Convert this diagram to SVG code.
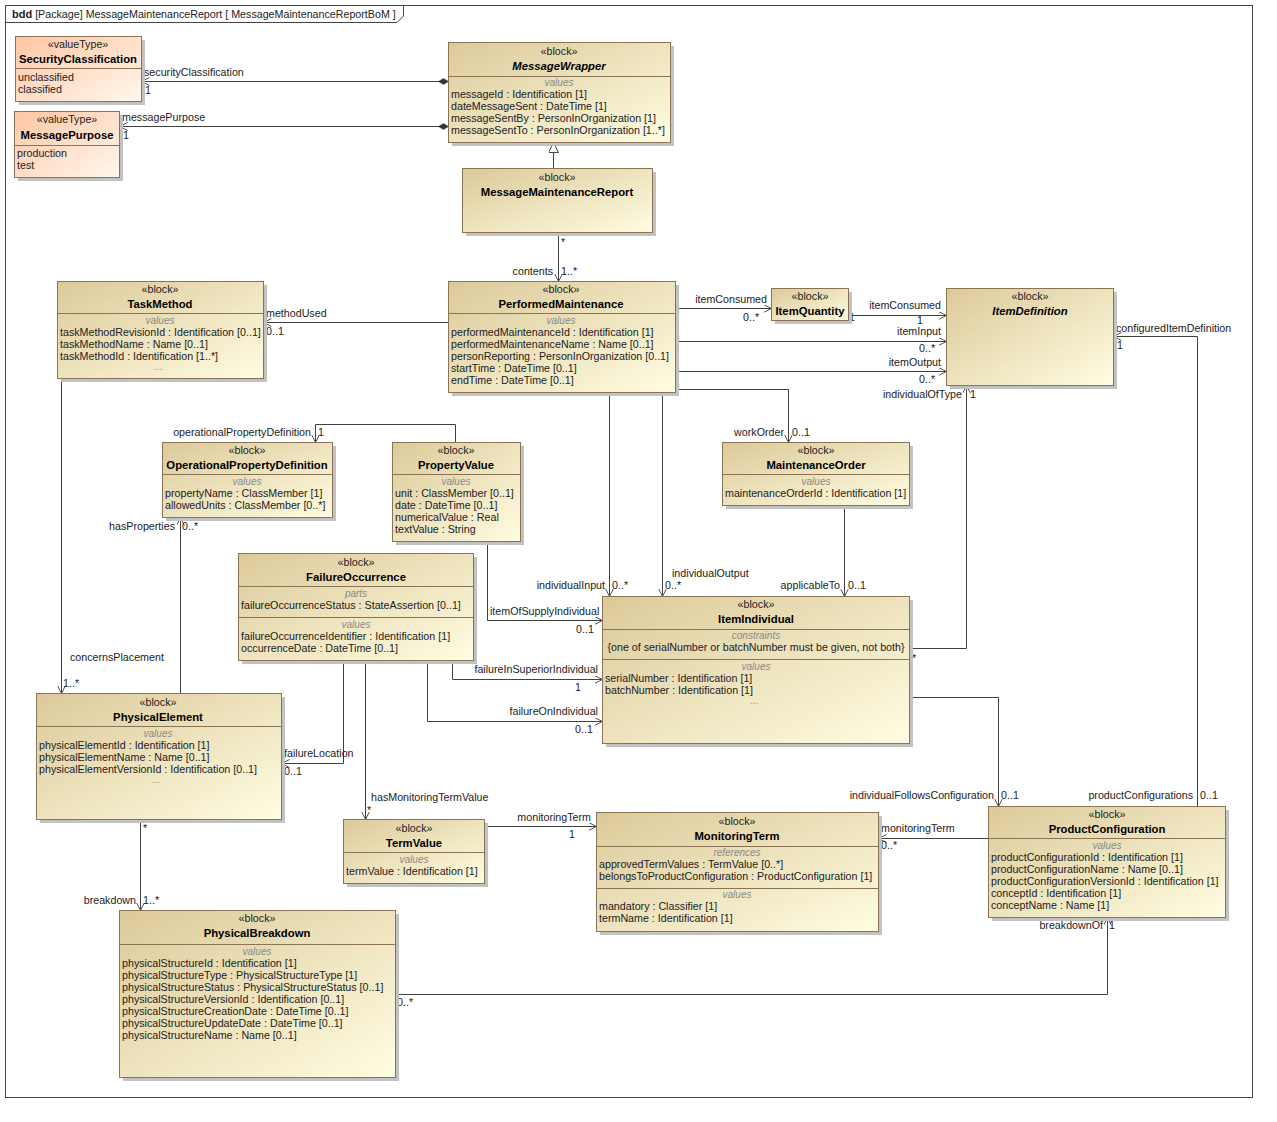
<svg xmlns="http://www.w3.org/2000/svg" width="1277" height="1122" viewBox="0 0 1277 1122">
<defs>
<linearGradient id="gb" x1="0" y1="0" x2="1" y2="1"><stop offset="0" stop-color="#dcc999"/><stop offset="1" stop-color="#fffde2"/></linearGradient>
<linearGradient id="gv" x1="0" y1="0" x2="1" y2="1"><stop offset="0" stop-color="#ffc6a3"/><stop offset="1" stop-color="#fff8ee"/></linearGradient>
<marker id="ar" markerWidth="10" markerHeight="10" refX="8" refY="4" orient="auto" markerUnits="userSpaceOnUse"><path d="M0,0 L8,4 L0,8" fill="none" stroke="#555" stroke-width="1"/></marker>
<marker id="dm" markerWidth="12" markerHeight="8" refX="0" refY="3" orient="auto" markerUnits="userSpaceOnUse"><path d="M0,3 L5,0 L10,3 L5,6 Z" fill="#333" stroke="#333" stroke-width="0.5"/></marker>
<marker id="tri" markerWidth="12" markerHeight="12" refX="10" refY="5" orient="auto" markerUnits="userSpaceOnUse"><path d="M0,0 L10,5 L0,10 Z" fill="#fff" stroke="#444" stroke-width="1"/></marker>
</defs>
<style>
text{font-family:"Liberation Sans",Arial,sans-serif;font-size:10.7px;fill:#222}
.c{text-anchor:middle}
.r{text-anchor:end}
.b{font-weight:bold;fill:#000;font-size:11.3px}
.i{font-style:italic}
.h{font-size:10px;fill:#8a8a8a;font-style:italic;text-anchor:middle}
.d{fill:#999;text-anchor:middle;font-size:10px}
.box{fill:url(#gb);stroke:#8b7355;stroke-width:1}
.vt{fill:url(#gv);stroke:#8b7355;stroke-width:1}
.sh{fill:#c2c2c2}
.sep{stroke:#8b7355;stroke-width:1}
.ln{fill:none;stroke:#404040;stroke-width:1}
.fr{fill:none;stroke:#444;stroke-width:1}
</style>
<rect x="0" y="0" width="1277" height="1122" fill="#fff"/>
<g id="frame">
<rect class="fr" x="5.5" y="5.5" width="1247" height="1092"/>
<path class="fr" d="M5.5,22.5 H397 L403.5,16 V5.5"/>
<text x="12" y="18"><tspan style="font-weight:bold;font-size:11px">bdd</tspan> [Package] MessageMaintenanceReport [ MessageMaintenanceReportBoM ]</text>
</g>

<g id="connectors">
<g transform="translate(0.5,0.5)">
<path class="ln" d="M448,81 H141" marker-start="url(#dm)" marker-end="url(#ar)"/>
<path class="ln" d="M448,126 H119" marker-start="url(#dm)" marker-end="url(#ar)"/>
<path class="ln" d="M553,168 V142" marker-end="url(#tri)"/>
<path class="ln" d="M558,232 V281" marker-end="url(#ar)"/>
<path class="ln" d="M448,322 H263" marker-end="url(#ar)"/>
<path class="ln" d="M675,308 H771" marker-end="url(#ar)"/>
<path class="ln" d="M848,315 H946" marker-end="url(#ar)"/>
<path class="ln" d="M675,341 H946" marker-end="url(#ar)"/>
<path class="ln" d="M675,371 H946" marker-end="url(#ar)"/>
<path class="ln" d="M675,389 H788 V442" marker-end="url(#ar)"/>
<path class="ln" d="M609,392 V596" marker-end="url(#ar)"/>
<path class="ln" d="M662,392 V596" marker-end="url(#ar)"/>
<path class="ln" d="M844,505 V596" marker-end="url(#ar)"/>
<path class="ln" d="M909,648 H966 V385" marker-end="url(#ar)"/>
<path class="ln" d="M1197,806 V336 H1113" marker-end="url(#ar)"/>
<path class="ln" d="M909,697 H998 V806" marker-end="url(#ar)"/>
<path class="ln" d="M455,442 V424 H315 V442" marker-end="url(#ar)"/>
<path class="ln" d="M487,541 V620 H602" marker-end="url(#ar)"/>
<path class="ln" d="M180,693 V517" marker-end="url(#ar)"/>
<path class="ln" d="M61,378 V693" marker-end="url(#ar)"/>
<path class="ln" d="M343,660 V763 H281" marker-end="url(#ar)"/>
<path class="ln" d="M365,660 V819" marker-end="url(#ar)"/>
<path class="ln" d="M452,660 V679 H602" marker-end="url(#ar)"/>
<path class="ln" d="M427,660 V721 H602" marker-end="url(#ar)"/>
<path class="ln" d="M484,826 H596" marker-end="url(#ar)"/>
<path class="ln" d="M988,838 H878" marker-end="url(#ar)"/>
<path class="ln" d="M140,819 V910" marker-end="url(#ar)"/>
<path class="ln" d="M395,994 H1107 V917" marker-end="url(#ar)"/>
</g>
<text x="144" y="76">securityClassification</text>
<text x="145" y="94">1</text>
<text x="122" y="121">messagePurpose</text>
<text x="123" y="139">1</text>
<text x="561" y="246">*</text>
<text class="r" x="553" y="275">contents</text>
<text x="561" y="275">1..*</text>
<text x="266" y="317">methodUsed</text>
<text x="266" y="335">0..1</text>
<text class="r" x="767" y="303">itemConsumed</text>
<text x="743" y="321">0..*</text>
<text class="r" x="941" y="309">itemConsumed</text>
<text x="849" y="321" fill="#602060">1</text>
<text x="917" y="324">1</text>
<text class="r" x="941" y="335">itemInput</text>
<text x="919" y="352">0..*</text>
<text class="r" x="941" y="366">itemOutput</text>
<text x="919" y="383">0..*</text>
<text class="r" x="962" y="398">individualOfType</text>
<text x="970" y="398">1</text>
<text x="1116" y="332">configuredItemDefinition</text>
<text x="1117" y="349">1</text>
<text class="r" x="784" y="436">workOrder</text>
<text x="792" y="436">0..1</text>
<text class="r" x="311" y="436">operationalPropertyDefinition</text>
<text x="318" y="436">1</text>
<text class="r" x="175" y="530">hasProperties</text>
<text x="182" y="530">0..*</text>
<text x="70" y="661">concernsPlacement</text>
<text x="63" y="687">1..*</text>
<text class="r" x="605" y="589">individualInput</text>
<text x="612" y="589">0..*</text>
<text x="490" y="615">itemOfSupplyIndividual</text>
<text x="576" y="633">0..1</text>
<text x="672" y="577">individualOutput</text>
<text x="665" y="589">0..*</text>
<text class="r" x="840" y="589">applicableTo</text>
<text x="848" y="589">0..1</text>
<text x="912" y="662">*</text>
<text class="r" x="994" y="799">individualFollowsConfiguration</text>
<text x="1001" y="799">0..1</text>
<text class="r" x="1193" y="799">productConfigurations</text>
<text x="1200" y="799">0..1</text>
<text x="881" y="832">monitoringTerm</text>
<text x="881" y="849">0..*</text>
<text class="r" x="1103" y="929">breakdownOf</text>
<text x="1109" y="929">1</text>
<text x="284" y="757">failureLocation</text>
<text x="284" y="775">0..1</text>
<text x="371" y="801">hasMonitoringTermValue</text>
<text x="367" y="814">*</text>
<text class="r" x="598" y="673">failureInSuperiorIndividual</text>
<text x="575" y="691">1</text>
<text class="r" x="598" y="715">failureOnIndividual</text>
<text x="575" y="733">0..1</text>
<text class="r" x="591" y="821">monitoringTerm</text>
<text x="569" y="838">1</text>
<text x="143" y="832">*</text>
<text class="r" x="136" y="904">breakdown</text>
<text x="143" y="904">1..*</text>
<text x="397" y="1006">0..*</text>
</g>

<g id="SecurityClassification">
<rect class="sh" x="19" y="40" width="126" height="65"/>
<rect class="vt" x="15.5" y="36.5" width="126" height="65"/>
<line class="sep" x1="15.5" y1="68.5" x2="141.5" y2="68.5"/>
<text class="c" x="78" y="48">«valueType»</text>
<text class="c b" x="78" y="63">SecurityClassification</text>
<text x="18" y="81">unclassified</text>
<text x="18" y="93">classified</text>
</g>

<g id="MessagePurpose">
<rect class="sh" x="18" y="115" width="105" height="66"/>
<rect class="vt" x="14.5" y="111.5" width="105" height="66"/>
<line class="sep" x1="14.5" y1="145.5" x2="119.5" y2="145.5"/>
<text class="c" x="67" y="123">«valueType»</text>
<text class="c b" x="67" y="139">MessagePurpose</text>
<text x="17" y="157">production</text>
<text x="17" y="169">test</text>
</g>

<g id="MessageWrapper">
<rect class="sh" x="452" y="46" width="222" height="100"/>
<rect class="box" x="448.5" y="42.5" width="222" height="100"/>
<line class="sep" x1="448.5" y1="76.5" x2="670.5" y2="76.5"/>
<text class="c" x="559" y="55">«block»</text>
<text class="c b i" x="559" y="70">MessageWrapper</text>
<text class="h" x="559" y="86">values</text>
<text x="451" y="98">messageId : Identification [1]</text>
<text x="451" y="110">dateMessageSent : DateTime [1]</text>
<text x="451" y="122">messageSentBy : PersonInOrganization [1]</text>
<text x="451" y="134">messageSentTo : PersonInOrganization [1..*]</text>
</g>

<g id="MessageMaintenanceReport">
<rect class="sh" x="466" y="172" width="190" height="64"/>
<rect class="box" x="462.5" y="168.5" width="190" height="64"/>
<text class="c" x="557" y="181">«block»</text>
<text class="c b" x="557" y="196">MessageMaintenanceReport</text>
</g>

<g id="TaskMethod">
<rect class="sh" x="61" y="285" width="206" height="97"/>
<rect class="box" x="57.5" y="281.5" width="206" height="97"/>
<line class="sep" x1="57.5" y1="313.5" x2="263.5" y2="313.5"/>
<text class="c" x="160" y="293">«block»</text>
<text class="c b" x="160" y="308">TaskMethod</text>
<text class="h" x="160" y="324">values</text>
<text x="60" y="336">taskMethodRevisionId : Identification [0..1]</text>
<text x="60" y="348">taskMethodName : Name [0..1]</text>
<text x="60" y="360">taskMethodId : Identification [1..*]</text>
<text class="d" x="158" y="370">...</text>
</g>

<g id="PerformedMaintenance">
<rect class="sh" x="452" y="285" width="227" height="111"/>
<rect class="box" x="448.5" y="281.5" width="227" height="111"/>
<line class="sep" x1="448.5" y1="313.5" x2="675.5" y2="313.5"/>
<text class="c" x="561" y="293">«block»</text>
<text class="c b" x="561" y="308">PerformedMaintenance</text>
<text class="h" x="561" y="324">values</text>
<text x="451" y="336">performedMaintenanceId : Identification [1]</text>
<text x="451" y="348">performedMaintenanceName : Name [0..1]</text>
<text x="451" y="360">personReporting : PersonInOrganization [0..1]</text>
<text x="451" y="372">startTime : DateTime [0..1]</text>
<text x="451" y="384">endTime : DateTime [0..1]</text>
</g>

<g id="ItemQuantity">
<rect class="sh" x="775" y="292" width="77" height="32"/>
<rect class="box" x="771.5" y="288.5" width="77" height="32"/>
<text class="c" x="810" y="300">«block»</text>
<text class="c b" x="810" y="315">ItemQuantity</text>
</g>

<g id="ItemDefinition">
<rect class="sh" x="950" y="292" width="167" height="97"/>
<rect class="box" x="946.5" y="288.5" width="167" height="97"/>
<text class="c" x="1030" y="300">«block»</text>
<text class="c b i" x="1030" y="315">ItemDefinition</text>
</g>

<g id="MaintenanceOrder">
<rect class="sh" x="726" y="446" width="187" height="63"/>
<rect class="box" x="722.5" y="442.5" width="187" height="63"/>
<line class="sep" x1="722.5" y1="474.5" x2="909.5" y2="474.5"/>
<text class="c" x="816" y="454">«block»</text>
<text class="c b" x="816" y="469">MaintenanceOrder</text>
<text class="h" x="816" y="485">values</text>
<text x="725" y="497">maintenanceOrderId : Identification [1]</text>
</g>

<g id="OperationalPropertyDefinition">
<rect class="sh" x="166" y="446" width="170" height="75"/>
<rect class="box" x="162.5" y="442.5" width="170" height="75"/>
<line class="sep" x1="162.5" y1="474.5" x2="332.5" y2="474.5"/>
<text class="c" x="247" y="454">«block»</text>
<text class="c b" x="247" y="469">OperationalPropertyDefinition</text>
<text class="h" x="247" y="485">values</text>
<text x="165" y="497">propertyName : ClassMember [1]</text>
<text x="165" y="509">allowedUnits : ClassMember [0..*]</text>
</g>

<g id="PropertyValue">
<rect class="sh" x="396" y="446" width="128" height="99"/>
<rect class="box" x="392.5" y="442.5" width="128" height="99"/>
<line class="sep" x1="392.5" y1="474.5" x2="520.5" y2="474.5"/>
<text class="c" x="456" y="454">«block»</text>
<text class="c b" x="456" y="469">PropertyValue</text>
<text class="h" x="456" y="485">values</text>
<text x="395" y="497">unit : ClassMember [0..1]</text>
<text x="395" y="509">date : DateTime [0..1]</text>
<text x="395" y="521">numericalValue : Real</text>
<text x="395" y="533">textValue : String</text>
</g>

<g id="FailureOccurrence">
<rect class="sh" x="242" y="557" width="235" height="107"/>
<rect class="box" x="238.5" y="553.5" width="235" height="107"/>
<line class="sep" x1="238.5" y1="586.5" x2="473.5" y2="586.5"/>
<line class="sep" x1="238.5" y1="617.5" x2="473.5" y2="617.5"/>
<text class="c" x="356" y="566">«block»</text>
<text class="c b" x="356" y="581">FailureOccurrence</text>
<text class="h" x="356" y="597">parts</text>
<text x="241" y="609">failureOccurrenceStatus : StateAssertion [0..1]</text>
<text class="h" x="356" y="628">values</text>
<text x="241" y="640">failureOccurrenceIdentifier : Identification [1]</text>
<text x="241" y="652">occurrenceDate : DateTime [0..1]</text>
</g>

<g id="ItemIndividual">
<rect class="sh" x="606" y="600" width="307" height="147"/>
<rect class="box" x="602.5" y="596.5" width="307" height="147"/>
<line class="sep" x1="602.5" y1="629.5" x2="909.5" y2="629.5"/>
<line class="sep" x1="602.5" y1="659.5" x2="909.5" y2="659.5"/>
<text class="c" x="756" y="608">«block»</text>
<text class="c b" x="756" y="623">ItemIndividual</text>
<text class="h" x="756" y="639">constraints</text>
<text class="c" x="756" y="651">{one of serialNumber or batchNumber must be given, not both}</text>
<text class="h" x="756" y="670">values</text>
<text x="605" y="682">serialNumber : Identification [1]</text>
<text x="605" y="694">batchNumber : Identification [1]</text>
<text class="d" x="754" y="704">...</text>
</g>

<g id="PhysicalElement">
<rect class="sh" x="40" y="697" width="245" height="126"/>
<rect class="box" x="36.5" y="693.5" width="245" height="126"/>
<line class="sep" x1="36.5" y1="726.5" x2="281.5" y2="726.5"/>
<text class="c" x="158" y="706">«block»</text>
<text class="c b" x="158" y="721">PhysicalElement</text>
<text class="h" x="158" y="737">values</text>
<text x="39" y="749">physicalElementId : Identification [1]</text>
<text x="39" y="761">physicalElementName : Name [0..1]</text>
<text x="39" y="773">physicalElementVersionId : Identification [0..1]</text>
<text class="d" x="156" y="783">...</text>
</g>

<g id="TermValue">
<rect class="sh" x="347" y="823" width="141" height="64"/>
<rect class="box" x="343.5" y="819.5" width="141" height="64"/>
<line class="sep" x1="343.5" y1="852.5" x2="484.5" y2="852.5"/>
<text class="c" x="414" y="832">«block»</text>
<text class="c b" x="414" y="847">TermValue</text>
<text class="h" x="414" y="863">values</text>
<text x="346" y="875">termValue : Identification [1]</text>
</g>

<g id="MonitoringTerm">
<rect class="sh" x="600" y="816" width="282" height="119"/>
<rect class="box" x="596.5" y="812.5" width="282" height="119"/>
<line class="sep" x1="596.5" y1="846.5" x2="878.5" y2="846.5"/>
<line class="sep" x1="596.5" y1="888.5" x2="878.5" y2="888.5"/>
<text class="c" x="737" y="825">«block»</text>
<text class="c b" x="737" y="840">MonitoringTerm</text>
<text class="h" x="737" y="856">references</text>
<text x="599" y="868">approvedTermValues : TermValue [0..*]</text>
<text x="599" y="880">belongsToProductConfiguration : ProductConfiguration [1]</text>
<text class="h" x="737" y="898">values</text>
<text x="599" y="910">mandatory : Classifier [1]</text>
<text x="599" y="922">termName : Identification [1]</text>
</g>

<g id="ProductConfiguration">
<rect class="sh" x="992" y="810" width="237" height="111"/>
<rect class="box" x="988.5" y="806.5" width="237" height="111"/>
<line class="sep" x1="988.5" y1="838.5" x2="1225.5" y2="838.5"/>
<text class="c" x="1107" y="818">«block»</text>
<text class="c b" x="1107" y="833">ProductConfiguration</text>
<text class="h" x="1107" y="849">values</text>
<text x="991" y="861">productConfigurationId : Identification [1]</text>
<text x="991" y="873">productConfigurationName : Name [0..1]</text>
<text x="991" y="885">productConfigurationVersionId : Identification [1]</text>
<text x="991" y="897">conceptId : Identification [1]</text>
<text x="991" y="909">conceptName : Name [1]</text>
</g>

<g id="PhysicalBreakdown">
<rect class="sh" x="123" y="914" width="276" height="167"/>
<rect class="box" x="119.5" y="910.5" width="276" height="167"/>
<line class="sep" x1="119.5" y1="944.5" x2="395.5" y2="944.5"/>
<text class="c" x="257" y="922">«block»</text>
<text class="c b" x="257" y="937">PhysicalBreakdown</text>
<text class="h" x="257" y="955">values</text>
<text x="122" y="967">physicalStructureId : Identification [1]</text>
<text x="122" y="979">physicalStructureType : PhysicalStructureType [1]</text>
<text x="122" y="991">physicalStructureStatus : PhysicalStructureStatus [0..1]</text>
<text x="122" y="1003">physicalStructureVersionId : Identification [0..1]</text>
<text x="122" y="1015">physicalStructureCreationDate : DateTime [0..1]</text>
<text x="122" y="1027">physicalStructureUpdateDate : DateTime [0..1]</text>
<text x="122" y="1039">physicalStructureName : Name [0..1]</text>
</g>
</svg>
